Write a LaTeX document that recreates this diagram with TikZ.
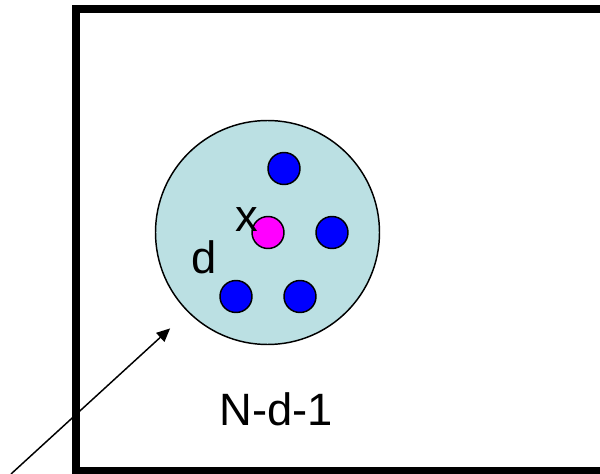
\documentclass[tikz,border=0pt]{standalone}
\usepackage{fontspec}
\setmainfont{Liberation Sans}
\usepackage{tikz}
\usetikzlibrary{arrows.meta, positioning}
\definecolor{regionblue}{RGB}{187,224,227}
\definecolor{pointblue}{RGB}{0,0,255}
\definecolor{pointpink}{RGB}{255,0,255}

\begin{document}
\begin{tikzpicture}[
        x=0.75pt, y=-0.75pt,
        region/.style={circle, draw=black, fill=regionblue, minimum size=168pt, inner sep=0pt, line width=1.1pt},
        point/.style={circle, draw=black, fill=#1, minimum size=24pt, inner sep=0pt, line width=1.1pt},
        label/.style={font=\fontsize{34}{40}\selectfont, inner sep=0pt, anchor=base},
        arrow/.style={-{Triangle[length=10pt, width=9pt]}, line width=1.1pt, black}
    ]
    \useasboundingbox (0,0) rectangle (600,474);
    \clip (0,0) rectangle (600,474);

    % Outer frame (runs off the right edge)
    \draw[line width=5.6pt] (76,9) rectangle (610,471);

    % Neighbourhood and its points
    \node[region] (hood) at (267.5,232.5) {};
    \node[point=pointpink] (px) at (268,232.5) {};
    \node[point=pointblue] (p1) at (284,168.5) {};
    \node[point=pointblue] (p2) at (332,232.5) {};
    \node[point=pointblue] (p3) at (236,296.5) {};
    \node[point=pointblue] (p4) at (300,296.5) {};

    % Labels
    \node[label] (lx) at (247,232) {x};
    \node[label] (ld) at (204,273) {d};
    \node[label] (lrest) at (276,425) {N-d-1};

    % Pointer
    \coordinate (tail) at (11,474);
    \draw[arrow, shorten >=18pt] (tail) -- (hood.225);

\end{tikzpicture}
\end{document}
